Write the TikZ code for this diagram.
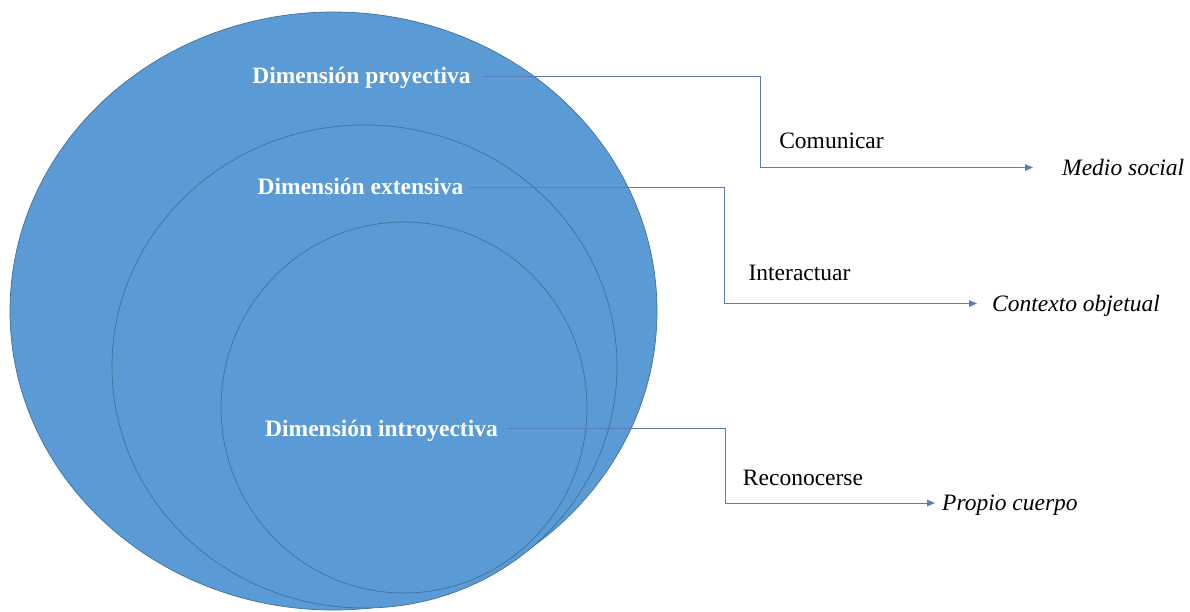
\documentclass[tikz,border=0pt]{standalone}
\usepackage{fontspec}
\setmainfont{Liberation Serif}
\usepackage{tikz}
\usetikzlibrary{calc,arrows.meta}
\definecolor{azul}{HTML}{5B9BD5}
\definecolor{borde}{HTML}{41719C}
\definecolor{linea}{HTML}{5A7DB8}

\begin{document}
\begin{tikzpicture}[x=1pt,y=-1pt,
    capa/.style={fill=azul,draw=borde,line width=0.7pt},
    dim/.style={text=white,font=\fontsize{23.5}{28}\selectfont\bfseries,inner ysep=0pt,text height=15.6pt,text depth=0pt},
    verbo/.style={font=\fontsize{23.5}{28}\selectfont,inner sep=0pt,text height=15.6pt,text depth=0pt},
    destino/.style={font=\fontsize{23.5}{28}\selectfont\itshape,inner ysep=0pt,text height=15.6pt,text depth=0pt,anchor=west},
    conector/.style={draw=linea,line width=0.9pt,-{Triangle[length=8pt,width=6.5pt]}}]
  \useasboundingbox (0,0) rectangle (1190,611);
  % capas
  \draw[capa] (333.5,311) ellipse [x radius=323.5pt, y radius=299pt];
  \draw[capa] (364.5,366.5) ellipse [x radius=252.5pt, y radius=241.5pt];
  \draw[capa] (404,407.5) ellipse [x radius=183pt, y radius=185.5pt];
  % dimensiones
  \node[dim,inner xsep=13pt] (proy) at (361.5,76) {Dimensión proyectiva};
  \node[dim,inner xsep=6pt] (ext) at (360.5,187) {Dimensión extensiva};
  \node[dim,inner xsep=10pt] (intro) at (381.5,428.5) {Dimensión introyectiva};
  % acciones
  \node[verbo] (comunicar) at (831.5,140.5) {Comunicar};
  \node[verbo] (interactuar) at (799.5,272.5) {Interactuar};
  \node[verbo] (reconocerse) at (803,477.5) {Reconocerse};
  % destinos
  \node[destino,inner xsep=29pt] (medio) at (1033,167.5) {Medio social};
  \node[destino,inner xsep=15pt] (contexto) at (977,303.5) {Contexto objetual};
  \node[destino,inner xsep=7pt] (propio) at (935,503) {Propio cuerpo};
  % codos
  \coordinate (q1) at (760,0);
  \coordinate (q2) at (724,0);
  \coordinate (q3) at (725,0);
  \draw[conector] (proy.east) -- (proy.east -| q1) |- (medio.west);
  \draw[conector] (ext.east) -- (ext.east -| q2) |- (contexto.west);
  \draw[conector] (intro.east) -- (intro.east -| q3) |- (propio.west);
\end{tikzpicture}
\end{document}
